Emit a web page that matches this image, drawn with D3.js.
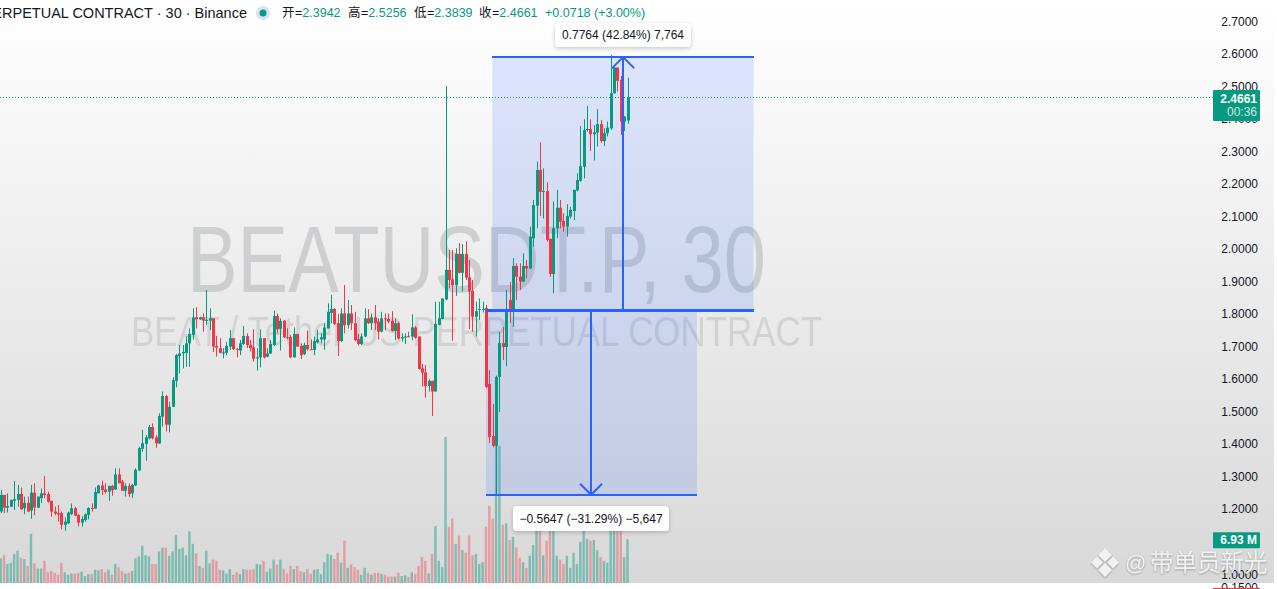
<!DOCTYPE html>
<html><head><meta charset="utf-8">
<script src="https://cdn.jsdelivr.net/npm/d3@7"></script>
<style>html,body{margin:0;padding:0;background:#fff;overflow:hidden}svg{display:block}</style>
</head><body><svg id="c" width="1277" height="589"></svg>
<script>
const opens=[1.192,1.243,1.204,1.207,1.225,1.228,1.246,1.202,1.219,1.195,
1.250,1.204,1.233,1.248,1.246,1.225,1.192,1.187,1.187,1.151,
1.156,1.184,1.202,1.181,1.158,1.166,1.181,1.203,1.201,1.248,
1.272,1.260,1.253,1.271,1.260,1.306,1.284,1.256,1.271,1.248,
1.272,1.318,1.385,1.400,1.417,1.452,1.420,1.401,1.484,1.547,
1.459,1.514,1.594,1.670,1.678,1.680,1.709,1.735,1.789,1.783,
1.789,1.780,1.779,1.786,1.701,1.694,1.680,1.680,1.699,1.725,
1.692,1.687,1.707,1.732,1.704,1.697,1.665,1.666,1.725,1.668,
1.678,1.704,1.793,1.754,1.779,1.728,1.728,1.666,1.738,1.701,
1.676,1.704,1.691,1.689,1.712,1.721,1.721,1.755,1.803,1.815,
1.771,1.716,1.801,1.765,1.801,1.771,1.722,1.707,1.730,1.786,
1.771,1.789,1.776,1.745,1.786,1.784,1.779,1.747,1.771,1.724,
1.729,1.731,1.730,1.758,1.730,1.632,1.620,1.578,1.594,1.561,
1.766,1.784,1.844,1.935,1.906,1.888,1.984,1.926,1.984,1.912,
1.870,1.791,1.812,1.814,1.818,1.584,1.424,1.394,1.606,1.710,
1.698,1.842,1.812,1.947,1.914,1.899,1.947,1.939,2.032,2.132,
2.242,2.174,2.177,2.030,1.922,2.063,2.126,2.085,2.068,2.099,
2.116,2.179,2.209,2.252,2.365,2.368,2.352,2.357,2.383,2.331,
2.355,2.370,2.478,2.557,2.519,2.391,2.3942];
const highs=[1.258,1.243,1.248,1.228,1.286,1.274,1.266,1.238,1.238,1.274,
1.279,1.238,1.263,1.301,1.253,1.225,1.207,1.212,1.192,1.174,
1.192,1.217,1.207,1.184,1.178,1.187,1.205,1.217,1.266,1.274,
1.287,1.279,1.271,1.274,1.325,1.325,1.289,1.279,1.279,1.277,
1.325,1.391,1.443,1.427,1.458,1.463,1.427,1.494,1.561,1.550,
1.530,1.605,1.676,1.704,1.704,1.730,1.755,1.817,1.820,1.791,
1.801,1.873,1.817,1.786,1.732,1.725,1.694,1.714,1.750,1.725,
1.694,1.719,1.762,1.740,1.719,1.752,1.694,1.752,1.725,1.694,
1.719,1.810,1.801,1.786,1.781,1.755,1.735,1.758,1.738,1.709,
1.711,1.748,1.721,1.730,1.750,1.740,1.771,1.832,1.858,1.817,
1.799,1.817,1.888,1.842,1.827,1.806,1.738,1.740,1.817,1.814,
1.801,1.827,1.786,1.806,1.801,1.801,1.808,1.786,1.776,1.740,
1.740,1.745,1.798,1.762,1.730,1.646,1.642,1.598,1.594,1.837,
1.837,1.847,2.500,1.996,1.996,2.001,2.017,2.014,2.022,1.965,
1.904,1.837,1.847,1.837,1.827,1.627,1.523,1.610,1.744,1.759,
1.873,1.898,1.971,1.955,1.955,1.986,1.965,2.068,2.150,2.268,
2.327,2.247,2.204,2.032,2.145,2.181,2.150,2.109,2.137,2.129,
2.181,2.232,2.377,2.398,2.439,2.398,2.380,2.429,2.396,2.370,
2.391,2.596,2.562,2.557,2.531,2.408,2.5256];
const lows=[1.187,1.187,1.189,1.207,1.197,1.207,1.197,1.184,1.190,1.170,
1.181,1.202,1.219,1.233,1.219,1.176,1.181,1.161,1.137,1.133,
1.154,1.181,1.178,1.146,1.146,1.161,1.168,1.192,1.201,1.248,
1.243,1.248,1.225,1.241,1.258,1.279,1.256,1.238,1.236,1.234,
1.271,1.318,1.376,1.348,1.414,1.414,1.388,1.401,1.453,1.438,
1.435,1.514,1.574,1.617,1.632,1.637,1.637,1.721,1.755,1.781,
1.745,1.765,1.750,1.683,1.668,1.678,1.663,1.673,1.689,1.689,
1.666,1.673,1.704,1.694,1.684,1.653,1.625,1.635,1.663,1.666,
1.676,1.701,1.740,1.687,1.725,1.721,1.664,1.666,1.699,1.661,
1.673,1.687,1.689,1.673,1.709,1.709,1.689,1.755,1.771,1.765,
1.670,1.714,1.740,1.755,1.750,1.716,1.702,1.704,1.728,1.769,
1.750,1.750,1.721,1.743,1.750,1.771,1.745,1.719,1.721,1.714,
1.707,1.728,1.719,1.724,1.629,1.576,1.542,1.561,1.486,1.561,
1.765,1.784,1.842,1.878,1.717,1.855,1.924,1.868,1.904,1.753,
1.745,1.730,1.781,1.804,1.572,1.403,1.390,1.240,1.498,1.658,
1.639,1.772,1.759,1.842,1.873,1.897,1.909,1.937,2.006,2.063,
2.101,2.093,2.022,1.914,1.863,2.032,2.063,2.052,2.037,2.093,
2.088,2.176,2.206,2.216,2.360,2.300,2.271,2.314,2.326,2.316,
2.345,2.365,2.476,2.483,2.350,2.362,2.3839];
const closes=[1.243,1.204,1.209,1.228,1.230,1.246,1.199,1.219,1.192,1.250,
1.204,1.238,1.248,1.243,1.222,1.192,1.186,1.183,1.151,1.161,
1.189,1.202,1.179,1.158,1.169,1.183,1.203,1.201,1.252,1.272,
1.258,1.252,1.271,1.258,1.306,1.279,1.256,1.271,1.246,1.274,
1.320,1.387,1.402,1.420,1.452,1.417,1.402,1.486,1.547,1.459,
1.514,1.596,1.673,1.678,1.683,1.709,1.738,1.789,1.783,1.789,
1.779,1.781,1.786,1.699,1.696,1.680,1.681,1.701,1.725,1.691,
1.691,1.709,1.732,1.704,1.694,1.662,1.666,1.725,1.666,1.678,
1.707,1.793,1.752,1.778,1.728,1.725,1.666,1.738,1.699,1.673,
1.704,1.691,1.689,1.716,1.721,1.728,1.758,1.806,1.815,1.769,
1.716,1.801,1.765,1.801,1.771,1.719,1.707,1.730,1.786,1.771,
1.789,1.771,1.745,1.786,1.785,1.776,1.747,1.771,1.724,1.728,
1.730,1.730,1.758,1.726,1.630,1.619,1.578,1.594,1.561,1.769,
1.786,1.847,1.935,1.904,1.888,1.984,1.926,1.984,1.911,1.868,
1.791,1.808,1.815,1.815,1.575,1.421,1.394,1.606,1.710,1.698,
1.815,1.815,1.947,1.914,1.899,1.947,1.939,2.037,2.134,2.242,
2.175,2.177,2.027,1.922,2.063,2.126,2.083,2.068,2.101,2.119,
2.181,2.211,2.254,2.365,2.368,2.352,2.358,2.383,2.331,2.355,
2.372,2.478,2.557,2.516,2.391,2.406,2.4661];
const volumes=[3.9,4.4,3.0,3.2,4.6,5.1,4.0,3.8,2.7,7.8,
3.1,2.3,2.3,3.5,1.7,1.9,1.6,1.3,3.2,1.7,
1.3,1.5,1.5,1.6,1.8,1.1,1.4,1.4,2.1,2.0,
2.2,1.7,2.1,1.3,3.0,2.5,1.9,1.5,1.6,1.9,
3.9,4.2,5.9,4.4,4.2,3.0,3.0,5.0,5.6,5.6,
4.3,5.0,7.6,5.4,5.6,4.4,8.2,6.2,4.7,2.7,
2.4,5.1,3.1,3.7,3.5,2.1,2.0,1.5,2.2,1.3,
1.7,1.4,2.2,2.1,2.1,2.2,3.0,2.9,3.5,1.8,
2.3,3.7,2.9,3.7,2.2,1.5,2.7,2.2,2.7,1.9,
1.7,2.2,1.5,2.1,2.2,1.4,3.3,4.6,4.4,3.8,
4.8,3.2,6.7,2.4,2.9,2.5,2.1,1.3,2.4,1.6,
1.3,1.6,1.6,1.4,1.3,1.0,1.0,1.0,1.6,1.1,
1.2,1.0,1.7,1.4,2.7,4.1,3.5,1.5,4.6,9.0,
3.5,2.5,23.1,8.9,10.2,6.2,7.5,5.2,4.8,7.5,
4.4,4.6,3.0,3.3,8.9,12.2,10.2,21.7,21.7,9.2,
9.4,6.8,7.3,5.6,4.0,3.3,2.4,4.3,6.0,9.4,
11.4,4.4,6.7,8.3,9.0,4.3,3.7,3.0,4.3,2.4,
4.8,3.0,6.5,8.7,7.0,6.7,6.8,5.2,4.1,3.5,
3.2,9.7,9.7,8.4,11.4,4.1,6.93];
const priceTicks=[2.7,2.6,2.5,2.4,2.3,2.2,2.1,2.0,1.9,1.8,1.7,1.6,1.5,1.4,1.3,1.2,1.1,1.0];
const legendTitle="PERPETUAL CONTRACT · 30 · Binance";
const ohlcLabels=["开","高","低","收"];
const ohlcValues=["2.3942","2.5256","2.3839","2.4661"];
const changeText="+0.0718 (+3.00%)";
const measureBase=1.8095, measureHigh=2.589, measureLow=1.2438;
const upperMeasure=[145.9,223.4,184.7], lowerMeasure=[144,206.6,175.2];
const upText="0.7764 (42.84%) 7,764", downText="−0.5647 (−31.29%) −5,647";
const lastPrice=2.4661, lastVolume=6.93;

const UP="#089981",DOWN="#f23645",BLUE="#2962ff",SANS="'Liberation Sans',Arial,sans-serif";
const svg=d3.select("#c");
const x=d3.scaleLinear().domain([0,opens.length-1]).range([0.67,627.5]);
const y=d3.scaleLinear().domain([1.0,2.7]).range([574,21]);
const v=d3.scaleLinear().domain([0,23.1]).range([583,437]);
const idx=d3.range(opens.length);
const colorOf=i=>closes[i]>=opens[i]?UP:DOWN;

const defs=svg.append("defs");
const g=defs.append("linearGradient").attr("id","bg").attr("x1",0).attr("x2",0).attr("y1",0).attr("y2",1);
g.append("stop").attr("offset",0).attr("stop-color","#ffffff");
g.append("stop").attr("offset",1).attr("stop-color","#d8d8d8");
const f=defs.append("filter").attr("id","sh").attr("x","-10%").attr("y","-30%").attr("width","120%").attr("height","170%");
f.append("feDropShadow").attr("dx",0).attr("dy",1.5).attr("stdDeviation",2).attr("flood-color","#000").attr("flood-opacity",.22);
svg.append("rect").attr("width",1274).attr("height",583).attr("fill","url(#bg)");

// chart watermark
svg.append("text").attr("x",187).attr("y",292).attr("font-family",SANS).attr("font-size",94).attr("fill","#808488").attr("opacity",.29).attr("textLength",579).attr("lengthAdjust","spacingAndGlyphs").text("BEATUSDT.P, 30");
svg.append("text").attr("x",131).attr("y",346).attr("font-family",SANS).attr("font-size",43).attr("fill","#808488").attr("opacity",.22).attr("textLength",691).attr("lengthAdjust","spacingAndGlyphs").text("BEAT / Tether US PERPETUAL CONTRACT");

// volume
const bw=2.4;
svg.append("g").selectAll("rect").data(idx).join("rect")
 .attr("x",i=>x(i)-bw/2).attr("width",bw).attr("y",i=>v(volumes[i])).attr("height",i=>v(0)-v(volumes[i]))
 .attr("fill",colorOf).attr("opacity",i=>colorOf(i)===UP?.45:.38);

// measuring rectangles
const m=svg.append("g");
m.append("rect").attr("x",x(upperMeasure[0])).attr("width",x(upperMeasure[1])-x(upperMeasure[0])).attr("y",y(measureHigh)).attr("height",y(measureBase)-y(measureHigh)).attr("fill",BLUE).attr("opacity",.15);
m.append("rect").attr("x",x(lowerMeasure[0])).attr("width",x(lowerMeasure[1])-x(lowerMeasure[0])).attr("y",y(measureBase)).attr("height",y(measureLow)-y(measureBase)).attr("fill",BLUE).attr("opacity",.15);

// last price line
svg.append("line").attr("x1",0).attr("x2",1213).attr("y1",Math.round(y(lastPrice))+.5).attr("y2",Math.round(y(lastPrice))+.5).attr("stroke",UP).attr("stroke-dasharray","1 2");

// candles
const cs=svg.append("g");
cs.selectAll("line").data(idx).join("line").attr("x1",i=>Math.round(x(i))+.5).attr("x2",i=>Math.round(x(i))+.5)
 .attr("y1",i=>y(highs[i])).attr("y2",i=>y(lows[i])).attr("stroke",colorOf);
cs.selectAll("rect").data(idx).join("rect").attr("x",i=>Math.round(x(i))-1).attr("width",3)
 .attr("y",i=>y(Math.max(opens[i],closes[i]))).attr("height",i=>Math.max(1,Math.abs(y(opens[i])-y(closes[i])))).attr("fill",colorOf);

// measuring lines and arrows
const m2=svg.append("g");
const ln=(a,b,c,d,w)=>m2.append("line").attr("x1",a).attr("x2",b).attr("y1",c).attr("y2",d).attr("stroke",BLUE).attr("stroke-width",w);
const [ul,ur,ua]=upperMeasure.map(x),[ll,lr,la]=lowerMeasure.map(x);
ln(ul,ur,y(measureHigh),y(measureHigh),2).attr("shape-rendering","crispEdges");
ln(ul,ur,y(measureBase),y(measureBase),3).attr("shape-rendering","crispEdges");
ln(ll,lr,y(measureBase),y(measureBase),3).attr("shape-rendering","crispEdges");
ln(ll,lr,y(measureLow),y(measureLow),2).attr("shape-rendering","crispEdges");
ln(ua,ua,y(measureBase),y(measureHigh),2).attr("shape-rendering","crispEdges");
ln(ua,ua-11,y(measureHigh),y(measureHigh)+11,2);
ln(ua,ua+11,y(measureHigh),y(measureHigh)+11,2);
ln(la,la,y(measureBase),y(measureLow),2).attr("shape-rendering","crispEdges");
ln(la,la-11,y(measureLow),y(measureLow)-11,2);
ln(la,la+11,y(measureLow),y(measureLow)-11,2);

function tip(x0,x1,y0,y1,t){
 svg.append("rect").attr("x",x0).attr("y",y0).attr("width",x1-x0).attr("height",y1-y0).attr("rx",4).attr("fill","#fff").attr("opacity",.96).attr("filter","url(#sh)");
 svg.append("text").attr("x",(x0+x1)/2).attr("y",(y0+y1)/2+4).attr("text-anchor","middle").attr("font-family",SANS).attr("font-size",12).attr("fill","#131722").text(t);
}
tip(555,691,23,47,upText);
tip(513,669,506,531,downText);

// legend
const T=(px,py,t,c,s,a)=>svg.append("text").attr("x",px).attr("y",py).attr("font-family",SANS+",'Noto Sans CJK SC'").attr("font-size",s).attr("fill",c).attr("text-anchor",a||"start").text(t);
T(247,18,legendTitle,"#131722",14.5,"end");
svg.append("circle").attr("cx",263).attr("cy",13).attr("r",7).attr("fill","#d9e2f0");
svg.append("circle").attr("cx",263).attr("cy",13).attr("r",3.5).attr("fill",UP);
[282,348,414,479].forEach((px,i)=>{
 T(px,17,ohlcLabels[i],"#131722",12.5);
 const t=T(px+13,17,"","#131722",12.5);
 t.append("tspan").text("=");
 t.append("tspan").attr("fill",UP).text(ohlcValues[i]);
});
T(545,17,changeText,UP,12.5);

// price axis
priceTicks.forEach(p=>T(1258,y(p)+4.5,p.toFixed(4),"#131722",12,"end"));
T(1258,592,"0.1500","#131722",12,"end");
svg.append("rect").attr("x",1213).attr("y",588).attr("width",47).attr("height",1).attr("fill",DOWN);

const lp=y(lastPrice);
svg.append("rect").attr("x",1213).attr("y",lp-7).attr("width",47).attr("height",31).attr("rx",1).attr("fill",UP);
T(1257,lp+6,lastPrice.toFixed(4),"#fff",12,"end").attr("font-weight","bold");
T(1257,lp+19,"00:36","#cde9e4",12,"end");
const lv=v(lastVolume);
svg.append("rect").attr("x",1213).attr("y",lv-7).attr("width",47).attr("height",16).attr("rx",1).attr("fill",UP);
T(1257,lv+5,lastVolume.toFixed(2)+" M","#fff",12,"end").attr("font-weight","bold");

// platform watermark
const wm=svg.append("g").attr("opacity",.92).attr("style","filter:drop-shadow(0 1px 1px rgba(0,0,0,.3))");
[[1105,555,5],[1105,570,5],[1097,562.5,4],[1113,562.5,4]].forEach(d=>wm.append("path").attr("d",`M${d[0]-d[2]-2} ${d[1]}L${d[0]} ${d[1]-d[2]-2}L${d[0]+d[2]+2} ${d[1]}L${d[0]} ${d[1]+d[2]+2}Z`).attr("fill","#f4f4f4"));
wm.append("text").attr("x",1125).attr("y",570).attr("font-family",SANS).attr("font-size",21).attr("fill","#f4f4f4").text("@");
wm.append("text").attr("x",1150).attr("y",571).attr("font-family","'Noto Sans CJK SC'").attr("font-size",23.5).attr("fill","#f4f4f4").text("带单员新光");
</script></body></html>
